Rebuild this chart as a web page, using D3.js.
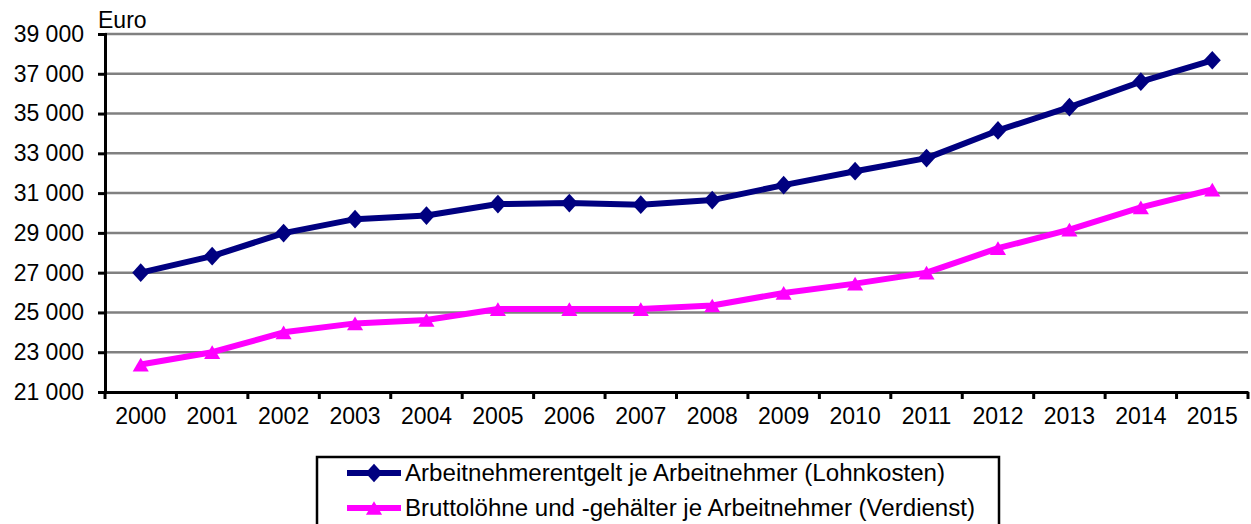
<!DOCTYPE html>
<html>
<head>
<meta charset="utf-8">
<script src="https://cdn.jsdelivr.net/npm/d3@7"></script>
<style>
  body { margin: 0; background: #fff; }
  text { font-family: "Liberation Sans", Arial, sans-serif; fill: #000; }
</style>
</head>
<body>
<div id="chart"></div>
<script>
var years = ['2000','2001','2002','2003','2004','2005','2006','2007','2008','2009','2010','2011','2012','2013','2014','2015'];
var lohnkosten = [27000, 27830, 28990, 29690, 29870, 30450, 30500, 30420, 30650, 31400, 32100, 32760, 34150, 35320, 36600, 37680];
var verdienst  = [22380, 23000, 24000, 24450, 24620, 25170, 25170, 25170, 25350, 25980, 26450, 27000, 28230, 29160, 30280, 31180];
var yTicks = [21000, 23000, 25000, 27000, 29000, 31000, 33000, 35000, 37000, 39000];
var seriesNames = ['Arbeitnehmerentgelt je Arbeitnehmer (Lohnkosten)', 'Bruttolöhne und -gehälter je Arbeitnehmer (Verdienst)'];

var width = 1251, height = 524;
var margins = {left: 105, right: 3, top: 34, bottom: 132};

var svg = d3.select('#chart').append('svg')
    .attr('width', width)
    .attr('height', height);

var x = d3.scaleBand().domain(years).range([margins.left, width - margins.right]);
var y = d3.scaleLinear().domain([21000, 39000]).range([height - margins.bottom, margins.top]);
var fmt = function(d) { return d3.format(',')(d).replace(',', ' '); };

// gridlines
svg.append('g').selectAll('line')
    .data(yTicks.slice(1))
    .enter().append('line')
    .attr('x1', margins.left).attr('x2', width - margins.right)
    .attr('y1', function(d) { return y(d); }).attr('y2', function(d) { return y(d); })
    .attr('stroke', '#808080').attr('stroke-width', 2.5);

// y axis
var yAxis = svg.append('g')
    .attr('transform', 'translate(' + margins.left + ',0)')
    .call(d3.axisLeft(y).tickValues(yTicks).tickFormat(fmt).tickSize(7).tickPadding(14));
yAxis.select('.domain').attr('stroke', '#000').attr('stroke-width', 3);
yAxis.selectAll('.tick line').attr('stroke', '#000').attr('stroke-width', 3);
yAxis.selectAll('.tick text').style('font-size', '23px');

// x axis
var xAxis = svg.append('g')
    .attr('transform', 'translate(0,' + y(21000) + ')')
    .call(d3.axisBottom(x).tickSize(0).tickPadding(16));
xAxis.select('.domain').attr('stroke', '#000').attr('stroke-width', 3);
xAxis.selectAll('.tick text').style('font-size', '23px');
xAxis.selectAll('.sep')
    .data(d3.range(years.length + 1))
    .enter().append('line')
    .attr('x1', function(i) { return margins.left + i * x.step(); })
    .attr('x2', function(i) { return margins.left + i * x.step(); })
    .attr('y1', 0).attr('y2', 7)
    .attr('stroke', '#000').attr('stroke-width', 3);

svg.append('text')
    .attr('x', 98).attr('y', 28)
    .style('font-size', '23px')
    .text('Euro');

var cx = function(d, i) { return x(years[i]) + x.bandwidth() / 2; };
var line = d3.line().x(cx).y(function(d) { return y(d); });

// excel-like diamond, a bit taller than wide
var excelDiamond = {
    draw: function(ctx, size) {
        var w = Math.sqrt(size) / 2, h = w * 1.1;
        ctx.moveTo(0, -h); ctx.lineTo(w, 0); ctx.lineTo(0, h); ctx.lineTo(-w, 0); ctx.closePath();
    }
};
var excelTriangle = {
    draw: function(ctx, size) {
        var w = Math.sqrt(size) / 2, h = w * 0.85;
        ctx.moveTo(0, -h); ctx.lineTo(w, h); ctx.lineTo(-w, h); ctx.closePath();
    }
};
var diamond = d3.symbol().type(excelDiamond).size(290);
var triangle = d3.symbol().type(excelTriangle).size(260);

function drawSeries(data, color, sym) {
    svg.append('path')
        .datum(data)
        .attr('d', line)
        .attr('fill', 'none')
        .attr('stroke', color)
        .attr('stroke-width', 6)
        .attr('stroke-linejoin', 'round');
    svg.append('g').selectAll('path')
        .data(data)
        .enter().append('path')
        .attr('d', sym)
        .attr('transform', function(d, i) { return 'translate(' + cx(d, i) + ',' + y(d) + ')'; })
        .attr('fill', color);
}
drawSeries(lohnkosten, '#000080', diamond);
drawSeries(verdienst, '#FF00FF', triangle);

// legend
var legend = svg.append('g');
legend.append('rect')
    .attr('x', 317).attr('y', 457).attr('width', 682).attr('height', 80)
    .attr('fill', '#fff').attr('stroke', '#000').attr('stroke-width', 2.5);

var legendItems = [
    {name: seriesNames[0], color: '#000080', sym: diamond},
    {name: seriesNames[1], color: '#FF00FF', sym: triangle}
];
var rows = legend.selectAll('.row')
    .data(legendItems)
    .enter().append('g')
    .attr('transform', function(d, i) { return 'translate(0,' + (473 + i * 35) + ')'; });
rows.append('line')
    .attr('x1', 347).attr('x2', 401).attr('y1', 0).attr('y2', 0)
    .attr('stroke', function(d) { return d.color; }).attr('stroke-width', 6);
rows.append('path')
    .attr('d', function(d) { return d.sym(); })
    .attr('transform', 'translate(374,0)')
    .attr('fill', function(d) { return d.color; });
rows.append('text')
    .attr('x', 405).attr('y', 8)
    .style('font-size', '23px')
    .attr('textLength', function(d, i) { return i === 0 ? 540 : 570; })
    .attr('lengthAdjust', 'spacingAndGlyphs')
    .text(function(d) { return d.name; });
</script>
</body>
</html>
